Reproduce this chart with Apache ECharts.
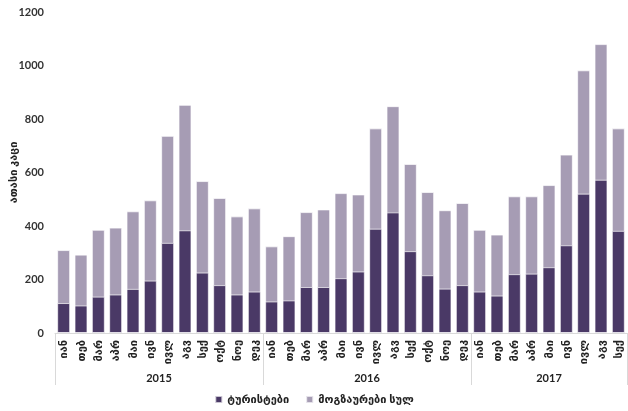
<!DOCTYPE html>
<html>
<head>
<meta charset="utf-8">
<script src="https://cdn.jsdelivr.net/npm/echarts@6/dist/echarts.min.js"></script>
<style>html,body{margin:0;padding:0;background:#fff}#c{width:628px;height:411px}</style>
</head>
<body>
<div id="c"></div>
<script>
var months = ['იან','თებ','მარ','აპრ','მაი','ივნ','ივლ','აგვ','სექ','ოქტ','ნოე','დეკ',
              'იან','თებ','მარ','აპრ','მაი','ივნ','ივლ','აგვ','სექ','ოქტ','ნოე','დეკ',
              'იან','თებ','მარ','აპრ','მაი','ივნ','ივლ','აგვ','სექ'];
var years = ['2015','2016','2017'];
var monthsPerYear = [12, 12, 9];
var tourists = [112,103,136,144,165,196,337,384,226,179,144,155,
                118,122,172,172,205,230,390,451,306,216,166,179,
                155,140,220,222,246,328,521,573,382];
var travelersTotal = [310,293,386,394,455,496,737,853,568,505,436,466,
                      324,362,452,462,523,518,765,848,632,527,459,486,
                      386,368,511,511,553,667,982,1080,765];
var yTicks = {min: 0, max: 1200, interval: 200};
var seriesNames = ['ტურისტები', 'მოგზაურები სულ'];
var yName = 'ათასი კაცი';

// year group boundaries and centres (in category-index units)
var bounds = [-0.5], centres = [];
(function () {
  var s = 0;
  monthsPerYear.forEach(function (n) {
    centres.push(s + (n - 1) / 2);
    s += n;
    bounds.push(s - 0.5);
  });
})();

var FONT = 'Lato, "DejaVu Sans", sans-serif';
var chart = echarts.init(document.getElementById('c'));
chart.setOption({
  animation: false,
  grid: {left: 55, right: 1, top: 12, bottom: 78, containLabel: false, outerBoundsMode: 'none'},
  legend: {
    bottom: 1, left: 'center',
    data: seriesNames,
    itemWidth: 7, itemHeight: 7, itemGap: 16,
    icon: 'rect',
    textStyle: {fontFamily: FONT, fontWeight: 'bold', fontSize: 11, color: '#222'}
  },
  xAxis: [{
    type: 'category', data: months, gridIndex: 0, position: 'bottom',
    axisLine: {lineStyle: {color: '#d9d9d9'}},
    axisTick: {show: false},
    axisLabel: {rotate: 90, interval: 0, margin: 7, fontFamily: FONT, fontWeight: 'bold', fontSize: 11, color: '#222'}
  }, {
    type: 'value', gridIndex: 0, position: 'bottom', min: -0.5, max: months.length - 0.5,
    axisLine: {show: false}, splitLine: {show: false},
    axisTick: {show: true, customValues: bounds, length: 52, lineStyle: {color: '#d9d9d9'}},
    axisLabel: {customValues: centres, margin: 40,
      formatter: function (v) {
        var k = centres.indexOf(v);
        return k >= 0 ? years[k] : '';
      },
      fontFamily: FONT, fontWeight: 'bold', fontSize: 11, color: '#222'}
  }],
  yAxis: {
    type: 'value', min: yTicks.min, max: yTicks.max, interval: yTicks.interval,
    name: yName, nameLocation: 'middle', nameRotate: 90, nameGap: 36, nameMoveOverlap: false,
    nameTextStyle: {fontFamily: FONT, fontWeight: 'bold', fontSize: 11, color: '#222'},
    splitLine: {show: false}, axisLine: {show: false}, axisTick: {show: false},
    axisLabel: {margin: 11, formatter: function (v) { return String(v); },
      fontFamily: FONT, fontWeight: 'bold', fontSize: 11, color: '#333'}
  },
  series: [{
    name: seriesNames[1], type: 'bar', data: travelersTotal, xAxisIndex: 0,
    barCategoryGap: '25%', barGap: '-100%',
    itemStyle: {color: '#a69cb4', borderColor: 'rgba(255,255,255,0.7)', borderWidth: 1}
  }, {
    name: seriesNames[0], type: 'bar', data: tourists, xAxisIndex: 0,
    barCategoryGap: '25%', barGap: '-100%',
    itemStyle: {color: '#4a3966', borderColor: 'rgba(255,255,255,0.7)', borderWidth: 1}
  }]
});
</script>
</body>
</html>
